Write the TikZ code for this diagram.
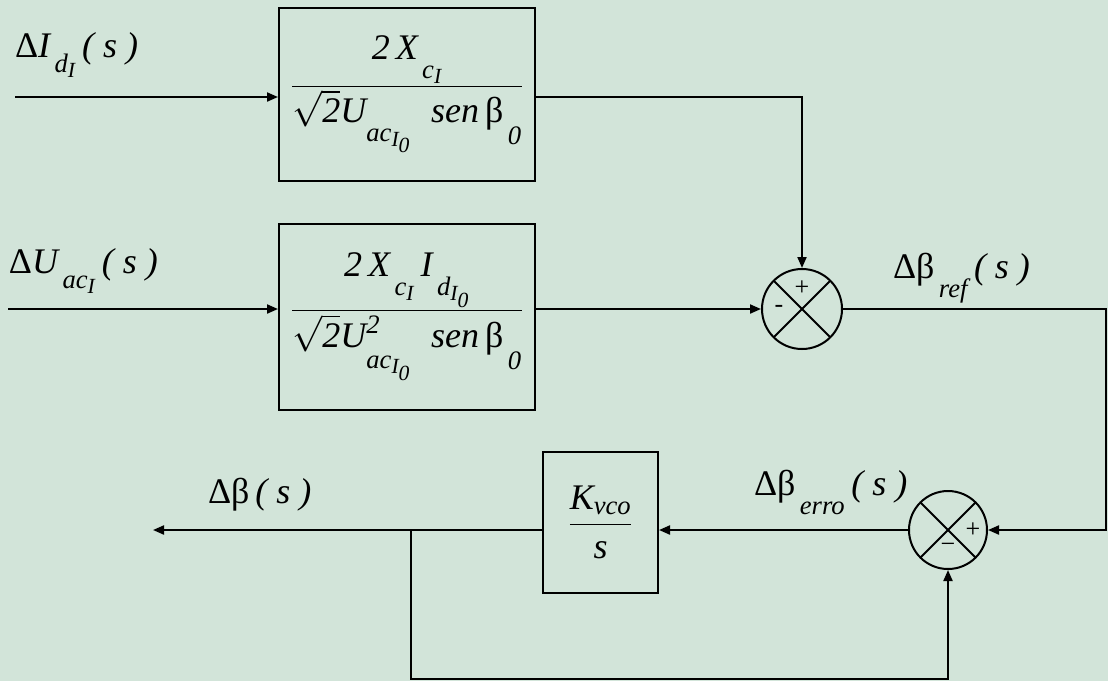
\RequirePackage{fix-cm}
\documentclass[tikz,border=0pt]{standalone}
\usepackage{amsmath}
\usepackage{fontspec}
\setmainfont{Liberation Serif}
\usetikzlibrary{arrows.meta,positioning,calc}
\definecolor{paper}{RGB}{210,228,217}
\renewcommand{\defaultscriptratio}{.74}
\renewcommand{\defaultscriptscriptratio}{.6}
\newcommand{\vi}[1]{\textit{#1}}
\newcommand{\Dl}{\text{Δ}}
\newcommand{\bt}{\text{β}}
\newcommand{\lsub}[1]{_{\lower10pt\hbox{$\scriptstyle#1$}}}
\newcommand{\llsub}[1]{_{\lower13pt\hbox{$\scriptstyle#1$}}}

\begin{document}
\begin{tikzpicture}[
  x=1pt, y=-1pt,
  line width=2pt,
  font=\fontsize{36}{43}\selectfont,
  block/.style={draw, line width=2pt, inner sep=0pt, align=center},
  junction/.style={draw, circle, line width=2pt, minimum size=80pt, inner sep=0pt,
    path picture={\draw[line width=2pt]
      (path picture bounding box.north west) -- (path picture bounding box.south east)
      (path picture bounding box.north east) -- (path picture bounding box.south west);}},
  sign/.style={font=\fontsize{26}{26}\selectfont, inner sep=0pt},
  sig/.style={-{Triangle[length=11pt,width=9pt]}},
  lbl/.style={anchor=base west, inner sep=0pt}
]
\fill[paper] (0,0) rectangle (1108,681);

% blocks
\node[block, minimum width=256pt, minimum height=173pt] (gainI) at (407,94.5)
  {$\dfrac{\vi{2}\,\vi{X}\llsub{\,\vi{c}_{\vi{I}}}}{\sqrt{\vi{2}}\vi{U}\llsub{\vi{ac}_{\vi{I}_{\vi{0}}}}\;\; \vi{sen}\,\bt\llsub{\,\vi{0}}}$};
\node[block, minimum width=256pt, minimum height=186pt] (gainU) at (407,317)
  {$\dfrac{\vi{2}\,\vi{X}\llsub{\,\vi{c}_{\vi{I}}}\,\vi{I}\llsub{\,\vi{d}_{\vi{I}_{\vi{0}}}}}{\sqrt{\vi{2}}\vi{U}^{\vi{2}}\llsub{\vi{ac}_{\vi{I}_{\vi{0}}}}\;\; \vi{sen}\,\bt\llsub{\,\vi{0}}}$};
\node[block, minimum width=115pt, minimum height=141pt] (vco) at (600.5,522.5)
  {$\dfrac{\vi{K}_{\vi{vco}}}{\vi{s}}$};

% summing junctions
\node[junction] (sum1) at (802,309) {};
\node[junction, minimum size=78pt] (sum2) at (948,530) {};
\node[sign] (sum1plus) at ([yshift=21pt]sum1.center) {+};
\node[sign] (sum1minus) at ([xshift=-23pt]sum1.center) {-};
\node[sign] (sum2plus) at ([xshift=25pt]sum2.center) {+};
\node[sign] (sum2minus) at ([yshift=-18pt]sum2.center) {−};

% signal labels
\node[lbl] (lblI) at (14,57) {$\Dl\vi{I}\lsub{\,\vi{d}_{\vi{I}}}\,\vi{( s )}$};
\node[lbl] (lblU) at (8,273) {$\Dl\vi{U}\lsub{\,\vi{ac}_{\vi{I}}}\,\vi{( s )}$};
\node[lbl] (lblref) at (892,278) {$\Dl\bt\lsub{\,\vi{ref}}\,\vi{( s )}$};
\node[lbl] (lblout) at (207,503) {$\Dl\bt\,\vi{( s )}$};
\node[lbl] (lblerr) at (753,495) {$\Dl\bt\lsub{\,\vi{erro}}\,\vi{( s )}$};

% wiring
\coordinate (in1) at (15,97);
\coordinate (in2) at (8,309);
\coordinate (rturn) at (1106,309);
\coordinate (outb) at (153,530);
\coordinate (tap) at (411,530);
\coordinate (loopb) at (411,679);

\draw[sig] (in1) -- (in1 -| gainI.west);
\draw[sig] (in2) -- (in2 -| gainU.west);
\draw[sig] (gainI.east |- in1) -| (sum1.north);
\draw[sig] (in2 -| gainU.east) -- (sum1.west);
\draw[sig] (sum1.east) -- (rturn) |- (sum2.east);
\draw[sig] (sum2.west) -- (sum2.west -| vco.east);
\draw[sig] (vco.west |- sum2) -- (outb);
\draw[sig] (tap) -- (loopb) -| (sum2.south);
\end{tikzpicture}
\end{document}
